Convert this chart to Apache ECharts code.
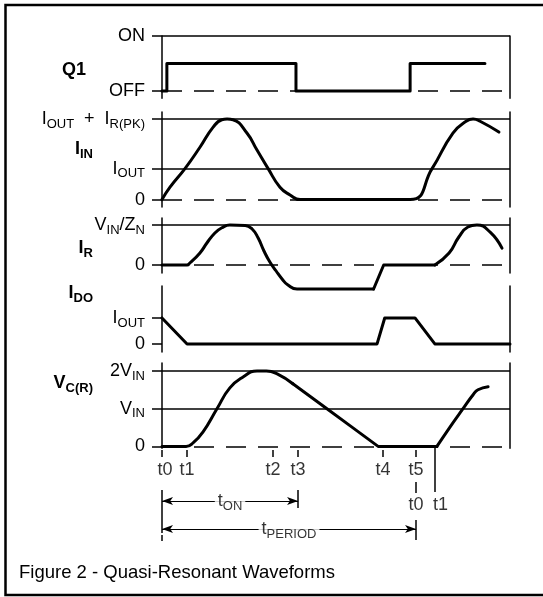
<!DOCTYPE html>
<html><head><meta charset="utf-8">
<script src="https://cdn.jsdelivr.net/npm/echarts@6/dist/echarts.min.js"></script>
<style>html,body{margin:0;padding:0;background:#fff}#c{width:543px;height:597px}</style>
</head><body><div id="c"></div>
<script>
// ---- data (time axis in arbitrary units, t0 = 0, full span 0..100) ----
const tNames  = ['t0', 't1', 't2', 't3', 't4', 't5'];
const tValues = [0, 7.2, 31.9, 39.1, 63.5, 73.0];
const tNextNames  = ['t0', 't1'];
const tNextValues = [73.0, 78.3];
const tOnEnd = 39.1;
const tPeriodEnd = 73.0;

// Q1 switch state: OFF = 0, ON = 1
const q1Ticks  = [0, 1];
const q1Labels = ['{p|OFF}', '{p|ON}'];
const q1Wave = [[0,0],[1.4,0],[1.4,0.5],[38.5,0.5],[38.5,0],[71.3,0],[71.3,0.5],[92.8,0.5]];

// I_IN: 0, I_OUT = 1, I_OUT + I_R(PK)
const iinTicks  = [0, 1, 2.6];
const iinLabels = ['{p|0}', '{m|I}{s|OUT}', '{m|I}{s|OUT}{m|  +  I}{s|R(PK)}'];
const iinWave = [[0,0],[2.3,0.4],[6.6,1.0],[10.9,1.69],[14.7,2.34],[17.2,2.58],[18.7,2.6],[20.4,2.58],
  [24.4,2.15],[27.3,1.6],[30.5,1.0],[33.9,0.4],[36.8,0.15],[39.7,0],[71.3,0],[77.6,1.0],[83.6,2.15],
  [87.4,2.53],[89.4,2.6],[91.4,2.53],[96.8,2.18]];

// I_R: 0, V_IN/Z_N = 1
const irTicks  = [0, 1];
const irLabels = ['{p|0}', '{m|V}{s|IN}{m|/Z}{s|N}'];
const irCurve1 = [[0,0],[7.2,0],[8.0,0.05],[10.9,0.3],[12.9,0.55],[15.2,0.8],[17.2,0.93],[19.5,1.0],
  [23.9,0.99],[25.9,0.9],[27.6,0.68],[29.3,0.35],[31.0,0.075],[32.8,-0.15],[34.5,-0.35],[36.2,-0.5],
  [38.8,-0.6],[60.8,-0.6]];
const irStep   = [[60.8,-0.6],[63.7,0],[78.4,0]];
const irCurve2 = [[78.4,0],[82.5,0.3],[85.3,0.7],[87.9,0.95],[90.5,1.0],[94.3,0.82],[97.7,0.42]];

// I_DO: 0, I_OUT = 1
const idoTicks  = [0, 1];
const idoLabels = ['{p|0}', '{m|I}{s|OUT}'];
const idoWave = [[0,1],[7.2,0],[61.8,0],[64.0,1],[72.7,1],[78.4,0],[100,0]];

// V_C(R): 0, V_IN = 1, 2V_IN = 2
const vcTicks  = [0, 1, 2];
const vcLabels = ['{p|0}', '{m|V}{s|IN}', '{m|2V}{s|IN}'];
const vcCurve = [[0,0],[6.9,0],[9.0,0.1],[11.8,0.385],[15.8,1.0],[19.5,1.55],[23.3,1.84],[27.3,2.0],[30.0,2.0],
  [33.5,1.9],[37.6,1.66]];
const vcRamp  = [[37.6,1.66],[47.4,1.0],[54.0,0.55],[62.1,0],[79.0,0]];
const vcCurve2 = [[79.0,0],[82.8,0.52],[86.5,1.0],[89.4,1.37],[90.8,1.5],[93.7,1.58]];

// ---- styling / layout ----
const FONT = '"Liberation Sans", Arial, Helvetica, sans-serif';
const richLab = {
  p: {fontFamily: FONT, fontSize: 18, color: '#000'},
  m: {fontFamily: FONT, fontSize: 18, color: '#000'},
  s: {fontFamily: FONT, fontSize: 13, color: '#000', padding: [10, 0, 0, 0]}
};
const richBold = {
  m: {fontFamily: FONT, fontSize: 18, fontWeight: 'bold', color: '#000'},
  s: {fontFamily: FONT, fontSize: 13, fontWeight: 'bold', color: '#000', padding: [10, 0, 0, 0]}
};
const DASH = [20, 12];
const SM = 0.5;

const panels = [
  {top: 36,  height: 62.2, min: -0.13, max: 1,    ticks: q1Ticks,  labels: q1Labels,
   waves: [{d: q1Wave, smooth: false}], lines: [[1, 'solid'], [0, DASH]]},
  {top: 112, height: 95,   min: -0.24, max: 2.83, ticks: iinTicks, labels: iinLabels,
   waves: [{d: iinWave, smooth: SM}], lines: [[2.6, 'solid'], [1, 'solid'], [0, DASH]]},
  {top: 218, height: 55,   min: -0.2,  max: 1.175, ticks: irTicks, labels: irLabels,
   waves: [{d: irCurve1, smooth: SM}, {d: irStep, smooth: false}, {d: irCurve2, smooth: SM}],
   lines: [[1, 'solid'], [0, DASH]]},
  {top: 286, height: 66,   min: -0.31, max: 2.23, ticks: idoTicks, labels: idoLabels,
   waves: [{d: idoWave, smooth: false}], lines: []},
  {top: 363, height: 85.3, min: -0.05, max: 2.21, ticks: vcTicks,  labels: vcLabels,
   waves: [{d: vcCurve, smooth: SM}, {d: vcRamp, smooth: false}, {d: vcCurve2, smooth: SM}],
   lines: [[2, 'solid'], [1, 'solid'], [0, DASH]]}
];

const grid = [], xAxis = [], yAxis = [], series = [];
panels.forEach((p, i) => {
  grid.push({left: 162, right: 33, top: p.top, height: p.height});
  xAxis.push({gridIndex: i, type: 'value', min: 0, max: 100, show: false});
  const leftIdx = yAxis.length;
  yAxis.push({
    gridIndex: i, type: 'value', min: p.min, max: p.max, position: 'left',
    axisLine: {show: true, onZero: false, lineStyle: {color: '#000', width: 1.5}},
    axisTick: {show: true, customValues: p.ticks, length: 10, lineStyle: {color: '#000', width: 1.5}},
    axisLabel: {show: true, customValues: p.ticks, margin: 17,
      formatter: v => p.labels[p.ticks.indexOf(v)] || '', rich: richLab},
    splitLine: {show: false}
  });
  yAxis.push({
    gridIndex: i, type: 'value', min: p.min, max: p.max, position: 'right',
    axisLine: {show: true, onZero: false, lineStyle: {color: '#000', width: 1.5}},
    axisTick: {show: false}, axisLabel: {show: false}, splitLine: {show: false}
  });
  p.waves.forEach((w, k) => {
    series.push({
      type: 'line', xAxisIndex: i, yAxisIndex: leftIdx, data: w.d, smooth: w.smooth,
      symbol: 'none', clip: false, z: 3,
      lineStyle: {color: '#000', width: 3, join: 'round', cap: 'round'},
      markLine: k === 0 && p.lines.length ? {
        silent: true, symbol: 'none', label: {show: false}, z: 2,
        lineStyle: {color: '#000', width: 1.5},
        data: p.lines.map(l => ({yAxis: l[0], lineStyle: {color: '#000', width: 1.5, type: l[1]}}))
      } : undefined
    });
  });
});

// annotation strip below the last panel (y = offset downward)
const aIdx = panels.length;
grid.push({left: 162, right: 33, top: 447, height: 100});
xAxis.push({gridIndex: aIdx, type: 'value', min: 0, max: 100, show: false});
const aY = yAxis.length;
yAxis.push({gridIndex: aIdx, type: 'value', min: 0, max: 100, inverse: true, show: false});

const seg = (t, a, b) => [{coord: [t, a]}, {coord: [t, b]}];
const tickSegs = tValues.map(t => seg(t, 3, 10));
tickSegs.push(seg(tPeriodEnd, 35, 46));
tickSegs.push(seg(tNextValues[1], 1, 45));
tickSegs.push(seg(0, 43, 86));
tickSegs.push(seg(0, 88, 94));
tickSegs.push(seg(tOnEnd, 43, 61));
tickSegs.push(seg(tPeriodEnd, 73, 93));

series.push({
  type: 'line', xAxisIndex: aIdx, yAxisIndex: aY, data: [[0, 0]], symbol: 'none',
  lineStyle: {opacity: 0},
  markLine: {silent: true, symbol: 'none', label: {show: false},
    lineStyle: {color: '#000', width: 1.5, type: 'solid'}, data: tickSegs}
});
series.push({
  type: 'line', xAxisIndex: aIdx, yAxisIndex: aY, data: [[0, 0]], symbol: 'none',
  lineStyle: {opacity: 0},
  markLine: {silent: true, symbol: ['arrow', 'arrow'], symbolSize: [6, 11], z: 4,
    lineStyle: {color: '#000', width: 1.2, type: 'solid'},
    label: {show: false},
    data: [
      [{coord: [0, 54]}, {coord: [tOnEnd, 54]}],
      [{coord: [0, 82]}, {coord: [tPeriodEnd, 82]}]
    ]}
});
// dimension labels, centred on the arrows
series.push({
  type: 'scatter', xAxisIndex: aIdx, yAxisIndex: aY, symbolSize: 0, z: 10,
  data: [{value: [tOnEnd / 2, 54], name: '{m|t}{s|ON}'}, {value: [tPeriodEnd / 2, 82], name: '{m|t}{s|PERIOD}'}],
  label: {show: true, position: 'inside', formatter: p => p.name, rich: richLab,
    backgroundColor: '#fff', padding: [0, 3, 0, 3]}
});
const tLabelData = tNames.map((n, i) => ({value: [tValues[i], 23], name: n,
    label: i === 0 ? {offset: [3, 0]} : undefined}))
  .concat(tNextNames.map((n, i) => ({value: [tNextValues[i], 58], name: n,
    label: i === 1 ? {offset: [6, 0]} : undefined})));
series.push({
  type: 'scatter', xAxisIndex: aIdx, yAxisIndex: aY, data: tLabelData, symbolSize: 0,
  label: {show: true, position: 'inside', formatter: p => p.name, color: '#000',
    fontFamily: FONT, fontSize: 18}
});

const panelNames = [
  {text: '{m|Q1}', x: 86, y: 70},
  {text: '{m|I}{s|IN}', x: 93, y: 149},
  {text: '{m|I}{s|R}', x: 93, y: 248},
  {text: '{m|I}{s|DO}', x: 93, y: 293},
  {text: '{m|V}{s|C(R)}', x: 93, y: 383}
];

const chart = echarts.init(document.getElementById('c'));
chart.setOption({
  animation: false,
  backgroundColor: '#fff',
  title: {text: 'Figure 2 - Quasi-Resonant Waveforms', left: 19, top: 563, padding: 0,
    textStyle: {fontFamily: FONT, fontSize: 18.5, fontWeight: 'normal', color: '#000'}},
  grid, xAxis, yAxis, series,
  graphic: [
    {type: 'rect', shape: {x: 5.5, y: 5, width: 560, height: 590}, silent: true,
     style: {fill: 'none', stroke: '#000', lineWidth: 2.5}}
  ].concat(panelNames.map(n => ({
    type: 'text', x: n.x, y: n.y, silent: true,
    style: {text: n.text, rich: richBold, align: 'right', verticalAlign: 'middle', fill: '#000'}
  })))
});
</script></body></html>
